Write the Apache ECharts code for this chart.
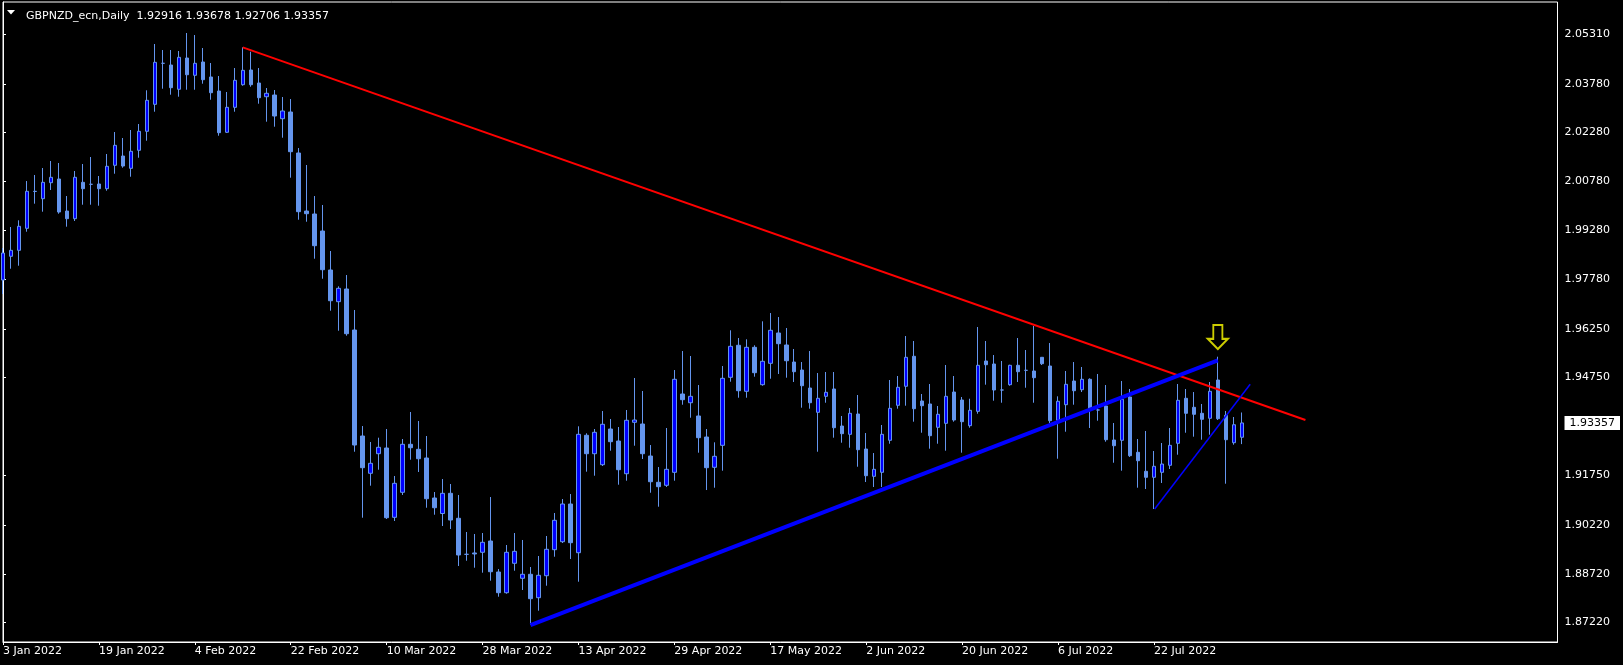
<!DOCTYPE html>
<html><head><meta charset="utf-8">
<script src="https://cdn.jsdelivr.net/npm/echarts@6/dist/echarts.min.js"></script>
<style>html,body{margin:0;padding:0;background:#000;}#c{width:1623px;height:665px;}</style>
</head><body><div id="c"></div>
<script>
// ---- data ----
const dateLabels = ['3 Jan 2022','19 Jan 2022','4 Feb 2022','22 Feb 2022','10 Mar 2022','28 Mar 2022','13 Apr 2022','29 Apr 2022','17 May 2022','2 Jun 2022','20 Jun 2022','6 Jul 2022','22 Jul 2022'];
const labelBars = [0,12,24,36,48,60,72,84,96,108,120,132,144];
const priceTicks = [2.05310,2.03780,2.02280,2.00780,1.99280,1.97780,1.96250,1.94750,1.91750,1.90220,1.88720,1.87220];

const opens = [1.97749,1.98478,1.98662,1.99338,2.00476,2.00248,2.00740,2.00854,1.99870,1.99634,
2.00752,2.00691,2.00700,2.00556,2.01275,2.01560,2.01182,2.01736,2.02320,2.03149,
2.04410,2.04357,2.03611,2.04572,2.04041,2.04450,2.03989,2.03558,2.02289,2.03057,
2.03752,2.04204,2.03804,2.03383,2.03435,2.02707,2.02913,2.01653,1.99870,1.99778,
1.99255,1.98057,1.97083,1.97473,1.96213,1.92955,1.91809,1.92411,1.92586,1.90456,
1.91225,1.92700,1.92546,1.92279,1.91050,1.90573,1.91194,1.90426,1.89319,1.89360,
1.89381,1.89728,1.88775,1.88139,1.89043,1.88582,1.88705,1.87985,1.88661,1.89461,
1.89706,1.90865,1.89368,1.92977,1.92411,1.92073,1.93170,1.92801,1.91796,1.93376,
1.93324,1.92340,1.91532,1.91440,1.91839,1.94246,1.93978,1.93570,1.92924,1.91993,
1.92669,1.94759,1.95743,1.94329,1.95681,1.94532,1.95189,1.96121,1.95752,1.95229,
1.94983,1.94430,1.93683,1.94175,1.94400,1.93262,1.93007,1.93631,1.92555,1.91716,
1.91839,1.92823,1.93899,1.94483,1.95405,1.94031,1.93939,1.93222,1.93345,1.94307,
1.94061,1.93272,1.93714,1.95260,1.95168,1.94369,1.94532,1.95128,1.94974,1.94953,
1.95374,1.95106,1.93438,1.93917,1.94645,1.94378,1.94698,1.93754,1.93877,1.92832,
1.92823,1.94154,1.92454,1.91870,1.91686,1.91839,1.92055,1.92731,1.94114,1.93837,
1.93653,1.93499,1.94676,1.93591,1.92749,1.92916];

const closes = [1.98579,1.98662,1.99400,2.00476,2.00470,2.00752,2.00906,1.99839,1.99634,2.00906,
2.00556,2.00691,2.00556,2.01244,2.01889,2.01253,2.01705,2.02320,2.03272,2.04440,
2.04410,2.03660,2.04594,2.04059,2.04410,2.03906,2.03506,2.02277,2.03057,2.03887,
2.04194,2.03752,2.03352,2.03488,2.02790,2.02944,2.01693,1.99849,1.99787,1.98804,
1.98066,1.97113,1.97494,1.96099,1.92678,1.91981,1.92116,1.92608,1.90444,1.91501,
1.92700,1.92595,1.92257,1.91028,1.90751,1.91194,1.90373,1.89298,1.89319,1.89330,
1.89688,1.88784,1.88139,1.89381,1.89411,1.88705,1.87955,1.88674,1.89473,1.90364,
1.90865,1.89676,1.93007,1.92411,1.93069,1.93315,1.92780,1.91919,1.93438,1.93447,
1.92411,1.91550,1.91397,1.91931,1.94698,1.94071,1.94175,1.92903,1.91981,1.92331,
1.94728,1.95712,1.94347,1.95681,1.94901,1.95251,1.96204,1.95792,1.95269,1.94931,
1.94501,1.93978,1.94114,1.94298,1.93210,1.93026,1.93653,1.92534,1.91735,1.91931,
1.93007,1.93806,1.94452,1.95374,1.93794,1.93886,1.92964,1.93622,1.94175,1.93447,
1.93395,1.93745,1.95128,1.95146,1.94369,1.94369,1.95128,1.94931,1.94974,1.94747,
1.95177,1.93425,1.94022,1.94544,1.94347,1.94698,1.93794,1.93754,1.92841,1.92657,
1.94083,1.92350,1.92196,1.91686,1.92024,1.92094,1.92669,1.94052,1.93653,1.93622,
1.93468,1.94329,1.93487,1.92841,1.93302,1.93357];

const lows = [1.97319,1.98097,1.98189,1.99234,2.00095,1.99849,2.00516,1.99787,1.99388,1.99563,
2.00064,2.00064,2.00033,2.00494,2.01016,2.01201,2.00924,2.01508,2.02031,2.02922,
2.03629,2.03445,2.03383,2.03598,2.03598,2.03783,2.03291,2.02184,2.02267,2.02922,
2.03721,2.03690,2.03168,2.02615,2.02461,2.02123,2.00894,1.99603,1.99541,1.98404,
1.97789,1.96806,1.96191,1.96038,1.92472,1.90444,1.91428,1.91919,1.90404,1.90343,
1.91142,1.92227,1.91849,1.90751,1.90536,1.90189,1.90097,1.88960,1.89122,1.88907,
1.88754,1.88508,1.88016,1.88108,1.88815,1.88222,1.87156,1.87586,1.88354,1.89245,
1.89666,1.89175,1.88477,1.91858,1.91735,1.92033,1.92503,1.91458,1.91581,1.92657,
1.92248,1.91212,1.90782,1.91388,1.91581,1.93917,1.93517,1.92442,1.91295,1.91366,
1.91889,1.94624,1.94132,1.94132,1.94778,1.94501,1.94716,1.94861,1.94747,1.94615,
1.93825,1.93794,1.92472,1.93978,1.92903,1.92749,1.92595,1.92011,1.91541,1.91388,
1.91388,1.92718,1.93794,1.93886,1.93395,1.93056,1.92565,1.92718,1.92503,1.93395,
1.92442,1.93210,1.93640,1.94532,1.94040,1.93978,1.94501,1.94615,1.94439,1.93978,
1.95137,1.93355,1.92257,1.93087,1.93917,1.94307,1.93201,1.93425,1.92780,1.92134,
1.91889,1.92310,1.91366,1.91326,1.90711,1.91511,1.91941,1.92380,1.93056,1.92934,
1.92841,1.92995,1.93447,1.91489,1.92688,1.92706];

const highs = [1.98733,1.99378,1.99584,2.00792,2.00977,2.01192,2.01407,2.01345,2.00331,2.01100,
2.01315,2.01530,2.00946,2.01622,2.02298,2.02114,2.02360,2.02544,2.03580,2.05003,
2.04818,2.04818,2.04788,2.05341,2.05279,2.04880,2.04419,2.04019,2.03528,2.04265,
2.04901,2.04766,2.04265,2.03650,2.03589,2.03374,2.03312,2.01806,2.01284,2.00331,
2.00055,1.98641,1.97556,1.97903,1.96828,1.93262,1.92771,1.92903,1.93170,1.91726,
1.92863,1.93693,1.93416,1.92955,1.91234,1.91633,1.91480,1.91142,1.90005,1.89943,
1.89974,1.91080,1.88867,1.89605,1.89974,1.89759,1.88929,1.89267,1.89882,1.90589,
1.91019,1.91172,1.93253,1.93038,1.93170,1.93723,1.93478,1.93232,1.93754,1.94738,
1.94338,1.92678,1.92002,1.93201,1.94983,1.95567,1.95414,1.94522,1.93170,1.92761,
1.95106,1.96204,1.95967,1.95927,1.95743,1.96480,1.96735,1.96612,1.96274,1.95629,
1.95229,1.95567,1.94891,1.94922,1.94922,1.93570,1.93816,1.94215,1.93047,1.92432,
1.93293,1.94676,1.94799,1.96028,1.95875,1.94246,1.94553,1.93877,1.95137,1.94799,
1.94154,1.94101,1.96305,1.95875,1.95444,1.95260,1.95146,1.95967,1.95598,1.96336,
1.95383,1.95813,1.94175,1.94953,1.95229,1.95076,1.94728,1.94861,1.94522,1.93355,
1.94645,1.94400,1.92863,1.93109,1.92494,1.92740,1.93201,1.94553,1.94400,1.94307,
1.93939,1.94615,1.95392,1.93723,1.93539,1.93678];

// trend lines: [bar index, price]
const redTrend = [[30, 2.04901], [162.96, 1.93447]];
const blueTrend = [[66, 1.87140], [152, 1.95281]];
const thinTrend = [[144.1, 1.90711], [156.05, 1.94544]];
const arrowMark = [[152, 1.95998]];

const titleText = 'GBPNZD_ecn,Daily  1.92916 1.93678 1.92706 1.93357';

// ---- chart ----
const FONT = 'DejaVu Sans';
const lastClose = closes[closes.length - 1];
const labelValues = priceTicks.concat([lastClose]).sort((a, b) => b - a);
const candleData = opens.map((o, i) => [i, o, closes[i], lows[i], highs[i]]);
const chart = echarts.init(document.getElementById('c'), null, {renderer: 'canvas'});
chart.setOption({
  backgroundColor: '#000000',
  animation: false,
  title: {
    text: titleText, left: 21, top: 6,
    textStyle: {color: '#ffffff', fontSize: 11, fontWeight: 'normal', fontFamily: FONT}
  },
  graphic: [{
    type: 'polygon', shape: {points: [[7, 10], [15, 10], [11, 14.5]]},
    style: {fill: '#ffffff'}
  }],
  grid: {left: 3, right: 64, top: 2, bottom: 23, show: true, borderColor: '#ffffff', borderWidth: 1, backgroundColor: 'transparent'},
  xAxis: {
    type: 'value', min: 0, max: 194.5,
    splitLine: {show: false},
    axisLine: {show: true, lineStyle: {color: '#ffffff', width: 1}},
    axisTick: {show: true, customValues: labelBars, length: 3, lineStyle: {color: '#ffffff'}},
    axisLabel: {
      customValues: labelBars, color: '#ffffff', fontSize: 11, fontFamily: FONT,
      align: 'left', margin: 4, hideOverlap: false,
      formatter: v => dateLabels[labelBars.indexOf(Math.round(v))] || ''
    }
  },
  yAxis: {
    type: 'value', position: 'right', min: 1.86624, max: 2.06294, scale: true,
    splitLine: {show: false},
    axisLine: {show: true, lineStyle: {color: '#ffffff', width: 1}},
    axisTick: {show: true, customValues: priceTicks, length: 3, lineStyle: {color: '#ffffff'}},
    axisLabel: {
      customValues: labelValues, color: '#ffffff', fontSize: 11, fontFamily: FONT,
      margin: 7, hideOverlap: false,
      formatter: v => Math.abs(v - lastClose) < 1e-9 ? '{cur|' + v.toFixed(5) + '}' : v.toFixed(5),
      rich: {
        cur: {color: '#000000', backgroundColor: '#ffffff', fontSize: 11, fontFamily: FONT, padding: [2, 5, 1, 5]}
      }
    }
  },
  series: [
    {
      type: 'candlestick', data: candleData, encode: {x: 0, y: [1, 2, 3, 4]},
      barWidth: 4,
      itemStyle: {color: '#0000ff', color0: '#6495ed', borderColor: '#6495ed', borderColor0: '#6495ed', borderColorDoji: '#6495ed', borderWidth: 1}
    },
    {type: 'line', data: redTrend, symbol: 'none', silent: true, lineStyle: {color: '#ff0000', width: 2}},
    {type: 'line', data: blueTrend, symbol: 'none', silent: true, lineStyle: {color: '#0000ff', width: 4}},
    {type: 'line', data: thinTrend, symbol: 'none', silent: true, lineStyle: {color: '#0000ff', width: 1.5}},
    {
      type: 'scatter', data: arrowMark, silent: true,
      symbol: 'path://M6,0L16,0L16,15L22,15L11,26L0,15L6,15Z', symbolSize: [20, 24],
      itemStyle: {color: 'rgba(0,0,0,0)', borderColor: '#ffff00', borderWidth: 2}
    }
  ]
});
</script>
</body></html>
